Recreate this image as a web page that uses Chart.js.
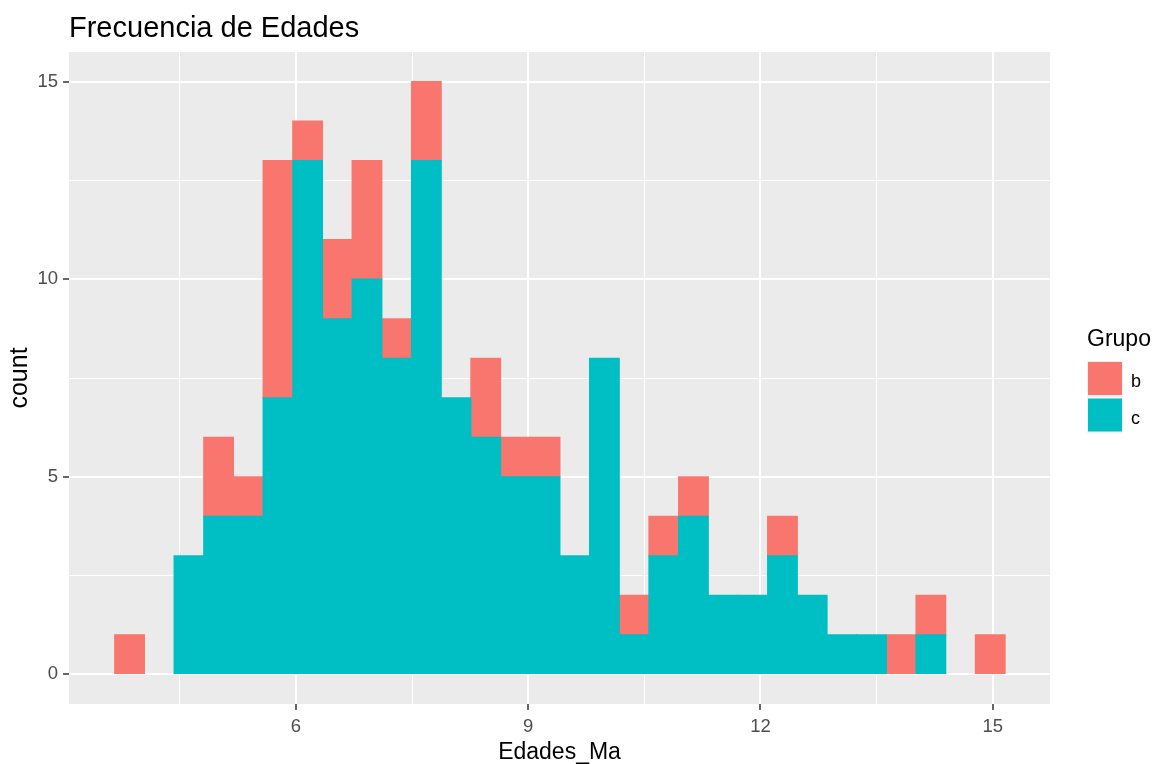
<!DOCTYPE html>
<html>
<head>
<meta charset="utf-8">
<title>Frecuencia de Edades</title>
<script src="https://cdn.jsdelivr.net/npm/chart.js@4.4.1/dist/chart.umd.min.js"></script>
<style>
  html, body { margin: 0; padding: 0; background: #ffffff; }
  #wrap { width: 1154px; height: 764px; }
</style>
</head>
<body>
<div id="wrap"><canvas id="chart" width="1154" height="764"></canvas></div>
<script>
// Histogram bins (centres, Ma) — 30 bins
const binCenters = [
  3.850, 4.233, 4.617, 5.000, 5.383, 5.767, 6.150, 6.534, 6.917, 7.300,
  7.684, 8.067, 8.451, 8.834, 9.217, 9.601, 9.984, 10.367, 10.751, 11.134,
  11.517, 11.901, 12.284, 12.668, 13.051, 13.434, 13.818, 14.201, 14.584, 14.968
];

// Counts per bin for each group
const countsC = [0, 0, 3, 4, 4, 7, 13, 9, 10, 8, 13, 7, 6, 5, 5, 3, 8, 1, 3, 4, 2, 2, 3, 2, 1, 1, 0, 1, 0, 0];
const countsB = [1, 0, 0, 2, 1, 6, 1, 2, 3, 1, 2, 0, 2, 1, 1, 0, 0, 1, 1, 1, 0, 0, 1, 0, 0, 0, 1, 1, 0, 1];

// Axis ticks
const xMajorTicks = [6, 9, 12, 15];
const xMinorTicks = [4.5, 7.5, 10.5, 13.5];
const yMajorTicks = [0, 5, 10, 15];
const yMinorTicks = [2.5, 7.5, 12.5];

// Groups (legend order) and their fills
const groupNames = ['b', 'c'];
const groupColors = ['#F8766D', '#00BFC4'];

const FONT = '"Liberation Sans", Arial, sans-serif';

const toPoints = (counts) => binCenters.map((x, i) => ({ x: x, y: counts[i] }));

const isMajor = (list, v) => list.some(t => Math.abs(t - v) < 1e-9);

// Grey panel behind the grid
const panelBackground = {
  id: 'panelBackground',
  beforeDraw(chart) {
    const { ctx, chartArea: a } = chart;
    ctx.save();
    ctx.fillStyle = '#EBEBEB';
    ctx.fillRect(a.left, a.top, a.right - a.left, a.bottom - a.top);
    ctx.restore();
  }
};

// Legend box on the right: title plus one filled key per group
const groupLegend = {
  id: 'groupLegend',
  afterDraw(chart) {
    const { ctx } = chart;
    ctx.save();
    ctx.fillStyle = '#000000';
    ctx.font = '23px ' + FONT;
    ctx.textAlign = 'left';
    ctx.textBaseline = 'alphabetic';
    ctx.fillText('Grupo', 1087, 346);
    const keyX = 1088, keyW = 34, keyH = 34, keyTop = 362, keyStep = 36.5;
    groupNames.forEach((name, i) => {
      const y = keyTop + i * keyStep;
      ctx.fillStyle = '#F2F2F2';
      ctx.fillRect(keyX - 1, y - 1, keyW + 2, keyH + 2);
      ctx.fillStyle = groupColors[i];
      ctx.fillRect(keyX, y, keyW, keyH - 1);
      ctx.fillStyle = '#000000';
      ctx.font = '18px ' + FONT;
      ctx.fillText(name, 1131, y + 25);
    });
    ctx.restore();
  }
};

const ctx = document.getElementById('chart').getContext('2d');

new Chart(ctx, {
  type: 'bar',
  data: {
    datasets: [
      { label: groupNames[1], data: toPoints(countsC), backgroundColor: groupColors[1] },
      { label: groupNames[0], data: toPoints(countsB), backgroundColor: groupColors[0] }
    ]
  },
  options: {
    responsive: false,
    animation: false,
    devicePixelRatio: 1,
    layout: { padding: { left: 0, right: 104, top: 0, bottom: 0 } },
    datasets: {
      bar: {
        barPercentage: 1,
        categoryPercentage: 1,
        borderWidth: 0,
        // adjacent bins share edges; a little inflation hides the seams,
        // while empty bins stay empty
        inflateAmount: (c) => (c.raw && c.raw.y === 0) ? 0 : 0.6
      }
    },
    plugins: {
      legend: { display: false },
      tooltip: { enabled: false },
      title: {
        display: true,
        text: 'Frecuencia de Edades',
        align: 'start',
        fullSize: false,
        color: '#000000',
        font: { family: FONT, size: 29, weight: 'normal', lineHeight: 1.2 },
        padding: { top: 12, bottom: 5.2 }
      }
    },
    scales: {
      x: {
        type: 'linear',
        stacked: true,
        offset: false,
        bounds: 'data',
        min: 3.0676,
        max: 15.740,
        afterBuildTicks(scale) {
          scale.ticks = xMinorTicks.concat(xMajorTicks).sort((a, b) => a - b).map(v => ({ value: v }));
        },
        afterFit(scale) { scale.height = 60; },
        ticks: {
          autoSkip: false,
          maxRotation: 0,
          padding: 6,
          color: '#4D4D4D',
          font: { family: FONT, size: 18.5 },
          callback: (v) => isMajor(xMajorTicks, v) ? String(v) : ''
        },
        grid: {
          offset: false,
          color: '#FFFFFF',
          lineWidth: (c) => isMajor(xMajorTicks, c.tick.value) ? 2 : 1,
          drawTicks: true,
          tickLength: 6,
          tickWidth: 1.5,
          tickColor: (c) => isMajor(xMajorTicks, c.tick.value) ? '#333333' : 'rgba(0,0,0,0)'
        },
        border: { display: false },
        title: {
          display: true,
          text: 'Edades_Ma',
          color: '#000000',
          font: { family: FONT, size: 23, lineHeight: 1 },
          padding: { top: 0, bottom: 0 }
        }
      },
      y: {
        type: 'linear',
        stacked: true,
        bounds: 'data',
        min: -0.75,
        max: 15.75,
        afterBuildTicks(scale) {
          scale.ticks = yMinorTicks.concat(yMajorTicks).sort((a, b) => a - b).map(v => ({ value: v }));
        },
        afterFit(scale) { scale.width = 69; },
        ticks: {
          autoSkip: false,
          padding: 5,
          color: '#4D4D4D',
          font: { family: FONT, size: 18.5 },
          callback: (v) => isMajor(yMajorTicks, v) ? String(v) : ''
        },
        grid: {
          color: '#FFFFFF',
          lineWidth: (c) => isMajor(yMajorTicks, c.tick.value) ? 2 : 1,
          drawTicks: true,
          tickLength: 6,
          tickWidth: 1.5,
          tickColor: (c) => isMajor(yMajorTicks, c.tick.value) ? '#333333' : 'rgba(0,0,0,0)'
        },
        border: { display: false },
        title: {
          display: true,
          text: 'count',
          color: '#000000',
          font: { family: FONT, size: 25, lineHeight: 1.2 },
          padding: { top: 5, bottom: 0 }
        }
      }
    }
  },
  plugins: [panelBackground, groupLegend]
});
</script>
</body>
</html>
